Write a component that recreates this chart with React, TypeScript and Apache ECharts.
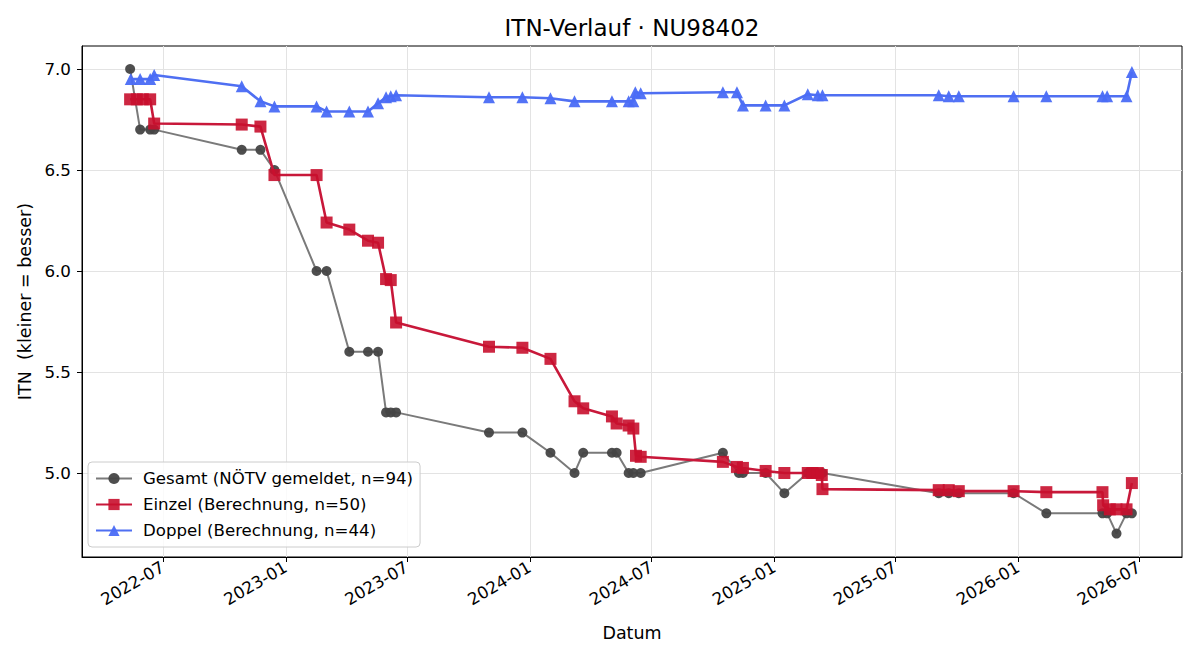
import React, { useEffect, useRef } from "react";
import * as echarts from "echarts";

// ---- Data ----
const gesamtDates = [
  "2022-05-13", "2022-05-28", "2022-06-12", "2022-06-18", "2022-10-27", "2022-11-24",
  "2022-12-15", "2023-02-16", "2023-03-03", "2023-04-06", "2023-05-04", "2023-05-19",
  "2023-05-31", "2023-06-07", "2023-06-15", "2023-11-01", "2023-12-21", "2024-02-01",
  "2024-03-08", "2024-03-21", "2024-05-03", "2024-05-10", "2024-05-28", "2024-06-04",
  "2024-06-15", "2024-10-16", "2024-11-09", "2024-11-15", "2024-12-19", "2025-01-16",
  "2025-02-20", "2025-02-27", "2025-03-07", "2025-03-14", "2025-09-04", "2025-09-19",
  "2025-10-04", "2025-12-25", "2026-02-12", "2026-05-07", "2026-05-14", "2026-05-28",
  "2026-06-12", "2026-06-20",
];
const gesamtValues = [
  7.0, 6.7, 6.7, 6.7, 6.6, 6.6,
  6.5, 6.0, 6.0, 5.6, 5.6, 5.6,
  5.3, 5.3, 5.3, 5.2, 5.2, 5.1,
  5.0, 5.1, 5.1, 5.1, 5.0, 5.0,
  5.0, 5.1, 5.0, 5.0, 5.0, 4.9,
  5.0, 5.0, 5.0, 5.0, 4.9, 4.9,
  4.9, 4.9, 4.8, 4.8, 4.8, 4.7,
  4.8, 4.8,
];

const einzelDates = [
  "2022-05-13", "2022-05-23", "2022-06-01", "2022-06-12", "2022-06-18", "2022-10-27",
  "2022-11-24", "2022-12-15", "2023-02-16", "2023-03-03", "2023-04-06", "2023-05-04",
  "2023-05-19", "2023-05-31", "2023-06-07", "2023-06-15", "2023-11-01", "2023-12-21",
  "2024-02-01", "2024-03-08", "2024-03-21", "2024-05-03", "2024-05-10", "2024-05-28",
  "2024-06-04", "2024-06-08", "2024-06-15", "2024-10-16", "2024-11-06", "2024-11-15",
  "2024-12-19", "2025-01-16", "2025-02-20", "2025-02-27", "2025-03-07", "2025-03-13",
  "2025-03-14", "2025-09-04", "2025-09-19", "2025-10-04", "2025-12-25", "2026-02-12",
  "2026-05-07", "2026-05-08", "2026-05-18", "2026-05-28", "2026-06-12", "2026-06-20",
];
const einzelValues = [
  6.85, 6.85, 6.85, 6.85, 6.73, 6.725,
  6.715, 6.475, 6.475, 6.24, 6.205, 6.15,
  6.14, 5.96, 5.955, 5.745, 5.625, 5.62,
  5.565, 5.355, 5.32, 5.28, 5.245, 5.235,
  5.22, 5.085, 5.08, 5.055, 5.03, 5.025,
  5.01, 5.0, 5.0, 5.0, 5.0, 4.99,
  4.92, 4.915, 4.915, 4.91, 4.91, 4.905,
  4.905, 4.84, 4.82, 4.82, 4.82, 4.95,
];

const doppelDates = [
  "2022-05-14", "2022-05-28", "2022-06-12", "2022-06-18", "2022-10-27", "2022-11-24",
  "2022-12-15", "2023-02-16", "2023-03-03", "2023-04-06", "2023-05-04", "2023-05-19",
  "2023-05-31", "2023-06-07", "2023-06-15", "2023-11-01", "2023-12-21", "2024-02-01",
  "2024-03-08", "2024-05-03", "2024-05-28", "2024-06-04", "2024-06-07", "2024-06-15",
  "2024-10-16", "2024-11-06", "2024-11-15", "2024-12-19", "2025-01-16", "2025-02-20",
  "2025-03-07", "2025-03-14", "2025-09-04", "2025-09-19", "2025-10-04", "2025-12-25",
  "2026-02-12", "2026-05-07", "2026-05-14", "2026-06-12", "2026-06-20",
];
const doppelValues = [
  6.95, 6.95, 6.95, 6.97, 6.915, 6.84,
  6.815, 6.815, 6.79, 6.79, 6.79, 6.83,
  6.86, 6.865, 6.87, 6.86, 6.86, 6.855,
  6.84, 6.84, 6.84, 6.84, 6.885, 6.88,
  6.885, 6.885, 6.82, 6.82, 6.82, 6.875,
  6.87, 6.87, 6.87, 6.865, 6.865, 6.865,
  6.865, 6.865, 6.865, 6.865, 6.985,
];

const xTickLabels = [
  "2022-07", "2023-01", "2023-07", "2024-01", "2024-07",
  "2025-01", "2025-07", "2026-01", "2026-07",
];
const yTickValues = [5.0, 5.5, 6.0, 6.5, 7.0];

const seriesNames = [
  "Gesamt (NÖTV gemeldet, n=94)",
  "Einzel (Berechnung, n=50)",
  "Doppel (Berechnung, n=44)",
];

const xMin = "2022-03-02";
const xMax = "2026-09-03";
const yMin = 4.584;
const yMax = 7.114;

const ts = (s: string) => Date.parse(s + "T00:00:00Z");
const pairs = (d: string[], v: number[]) => d.map((s, i) => [ts(s), v[i]]);

const FONT = "DejaVu Sans";

export default function App() {
  const ref = useRef<HTMLDivElement>(null);

  useEffect(() => {
    if (!ref.current) return;
    const chart = echarts.init(ref.current, undefined, { renderer: "svg" });
    const xTickValues = xTickLabels.map((s) => ts(s + "-01"));

    chart.setOption({
      animation: false,
      backgroundColor: "#ffffff",
      textStyle: { fontFamily: FONT },
      graphic: [
        {
          type: "text",
          x: 632,
          y: 28,
          style: {
            text: "ITN-Verlauf · NU98402",
            font: `23px "${FONT}"`,
            fill: "#000",
            textAlign: "center",
            textVerticalAlign: "middle",
          },
        },
      ],
      grid: {
        left: 82,
        right: 18,
        top: 46,
        bottom: 103,
        show: true,
        borderColor: "#000",
        borderWidth: 1,
        backgroundColor: "transparent",
      },
      legend: {
        left: 88,
        top: 462,
        orient: "vertical",
        itemWidth: 36,
        itemHeight: 14,
        itemGap: 9,
        padding: [8, 7, 8, 7],
        backgroundColor: "rgba(255,255,255,0.8)",
        borderColor: "#cccccc",
        borderWidth: 1,
        borderRadius: 4,
        textStyle: { fontFamily: FONT, fontSize: 16.6, color: "#000", padding: [0, 0, 0, 6] },
        data: seriesNames,
      },
      xAxis: {
        type: "value",
        min: ts(xMin),
        max: ts(xMax),
        name: "Datum",
        nameLocation: "middle",
        nameGap: 67,
        nameTextStyle: { fontFamily: FONT, fontSize: 17.5, color: "#000" },
        axisLine: { show: true, lineStyle: { color: "#000", width: 1 } },
        axisTick: {
          show: true,
          inside: false,
          length: 5,
          lineStyle: { color: "#000" },
          customValues: xTickValues,
        },
        axisLabel: {
          customValues: xTickValues,
          rotate: 30,
          margin: 9,
          fontFamily: FONT,
          fontSize: 16.7,
          color: "#000",
          formatter: (v: number) => {
            const i = xTickValues.indexOf(v);
            return i >= 0 ? xTickLabels[i] : "";
          },
        },
        splitLine: { show: true, lineStyle: { color: "#e3e3e3", width: 1 } },
      },
      yAxis: {
        type: "value",
        min: yMin,
        max: yMax,
        name: "ITN  (kleiner = besser)",
        nameLocation: "middle",
        nameGap: 45,
        nameRotate: 90,
        nameTextStyle: { fontFamily: FONT, fontSize: 17.5, color: "#000" },
        axisLine: { show: true, lineStyle: { color: "#000", width: 1 } },
        axisTick: {
          show: true,
          inside: false,
          length: 5,
          lineStyle: { color: "#000" },
          customValues: yTickValues,
        },
        axisLabel: {
          customValues: yTickValues,
          margin: 11,
          fontFamily: FONT,
          fontSize: 16.7,
          color: "#000",
          formatter: (v: number) => v.toFixed(1),
        },
        splitLine: { show: true, lineStyle: { color: "#e3e3e3", width: 1 } },
      },
      series: [
        {
          name: seriesNames[0],
          type: "line",
          data: pairs(gesamtDates, gesamtValues),
          symbol: "circle",
          symbolSize: 10,
          showAllSymbol: true,
          lineStyle: { color: "#7a7a7a", width: 2 },
          itemStyle: { color: "#444444", opacity: 0.95 },
          z: 2,
        },
        {
          name: seriesNames[1],
          type: "line",
          data: pairs(einzelDates, einzelValues),
          symbol: "rect",
          symbolSize: 12,
          showAllSymbol: true,
          lineStyle: { color: "#c8183a", width: 2.6 },
          itemStyle: { color: "#c8102e", opacity: 0.9 },
          z: 3,
        },
        {
          name: seriesNames[2],
          type: "line",
          data: pairs(doppelDates, doppelValues),
          symbol: "triangle",
          symbolSize: 12,
          showAllSymbol: true,
          lineStyle: { color: "#4f6ff2", width: 2.6 },
          itemStyle: { color: "#4a6cf5", opacity: 0.95 },
          z: 4,
        },
      ],
    });

    return () => chart.dispose();
  }, []);

  return (
    <div
      ref={ref}
      style={{ position: "fixed", left: 0, top: 0, width: 1200, height: 660 }}
    />
  );
}
